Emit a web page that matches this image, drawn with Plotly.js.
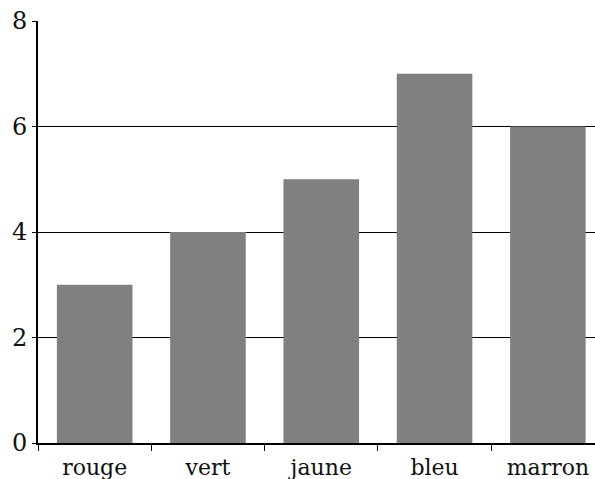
<!DOCTYPE html>
<html>
<head>
<meta charset="utf-8">
<script src="https://cdn.plot.ly/plotly-3.0.1.min.js"></script>
<style>html,body{margin:0;padding:0;background:#fff;}#chart{width:595px;height:479px;}</style>
</head>
<body>
<div id="chart"></div>
<script>
const categories = ["rouge", "vert", "jaune", "bleu", "marron"];
const values = [3, 4, 5, 7, 6];
const yTicks = [0, 2, 4, 6, 8];

const trace = {
  type: "bar",
  x: categories,
  y: values,
  marker: { color: "#808080", line: { width: 0 } },
  hoverinfo: "skip"
};

const layout = {
  width: 595,
  height: 479,
  margin: { l: 38, r: 0, t: 21, b: 36, pad: 0 },
  paper_bgcolor: "#fff",
  plot_bgcolor: "#fff",
  showlegend: false,
  bargap: 0.333,
  xaxis: {
    type: "category",
    range: [-0.5, 4.416],
    showgrid: false,
    zeroline: false,
    showline: true,
    linecolor: "#000",
    linewidth: 2,
    ticks: "outside",
    tickson: "boundaries",
    ticklen: 6,
    tickwidth: 1,
    tickcolor: "#000",
    ticklabelstandoff: 4,
    tickfont: { family: "DejaVu Serif", size: 22, color: "#111" },
    fixedrange: true
  },
  yaxis: {
    range: [0, 8],
    tickvals: yTicks,
    ticktext: yTicks.map(String),
    showgrid: true,
    gridcolor: "#000",
    gridwidth: 1,
    zeroline: false,
    showline: true,
    linecolor: "#000",
    linewidth: 2,
    ticks: "outside",
    ticklen: 4,
    tickwidth: 1,
    tickcolor: "#000",
    tickfont: { family: "DejaVu Serif", size: 24, color: "#111" },
    fixedrange: true
  }
};

Plotly.newPlot("chart", [trace], layout, { displayModeBar: false, staticPlot: true });
</script>
</body>
</html>
